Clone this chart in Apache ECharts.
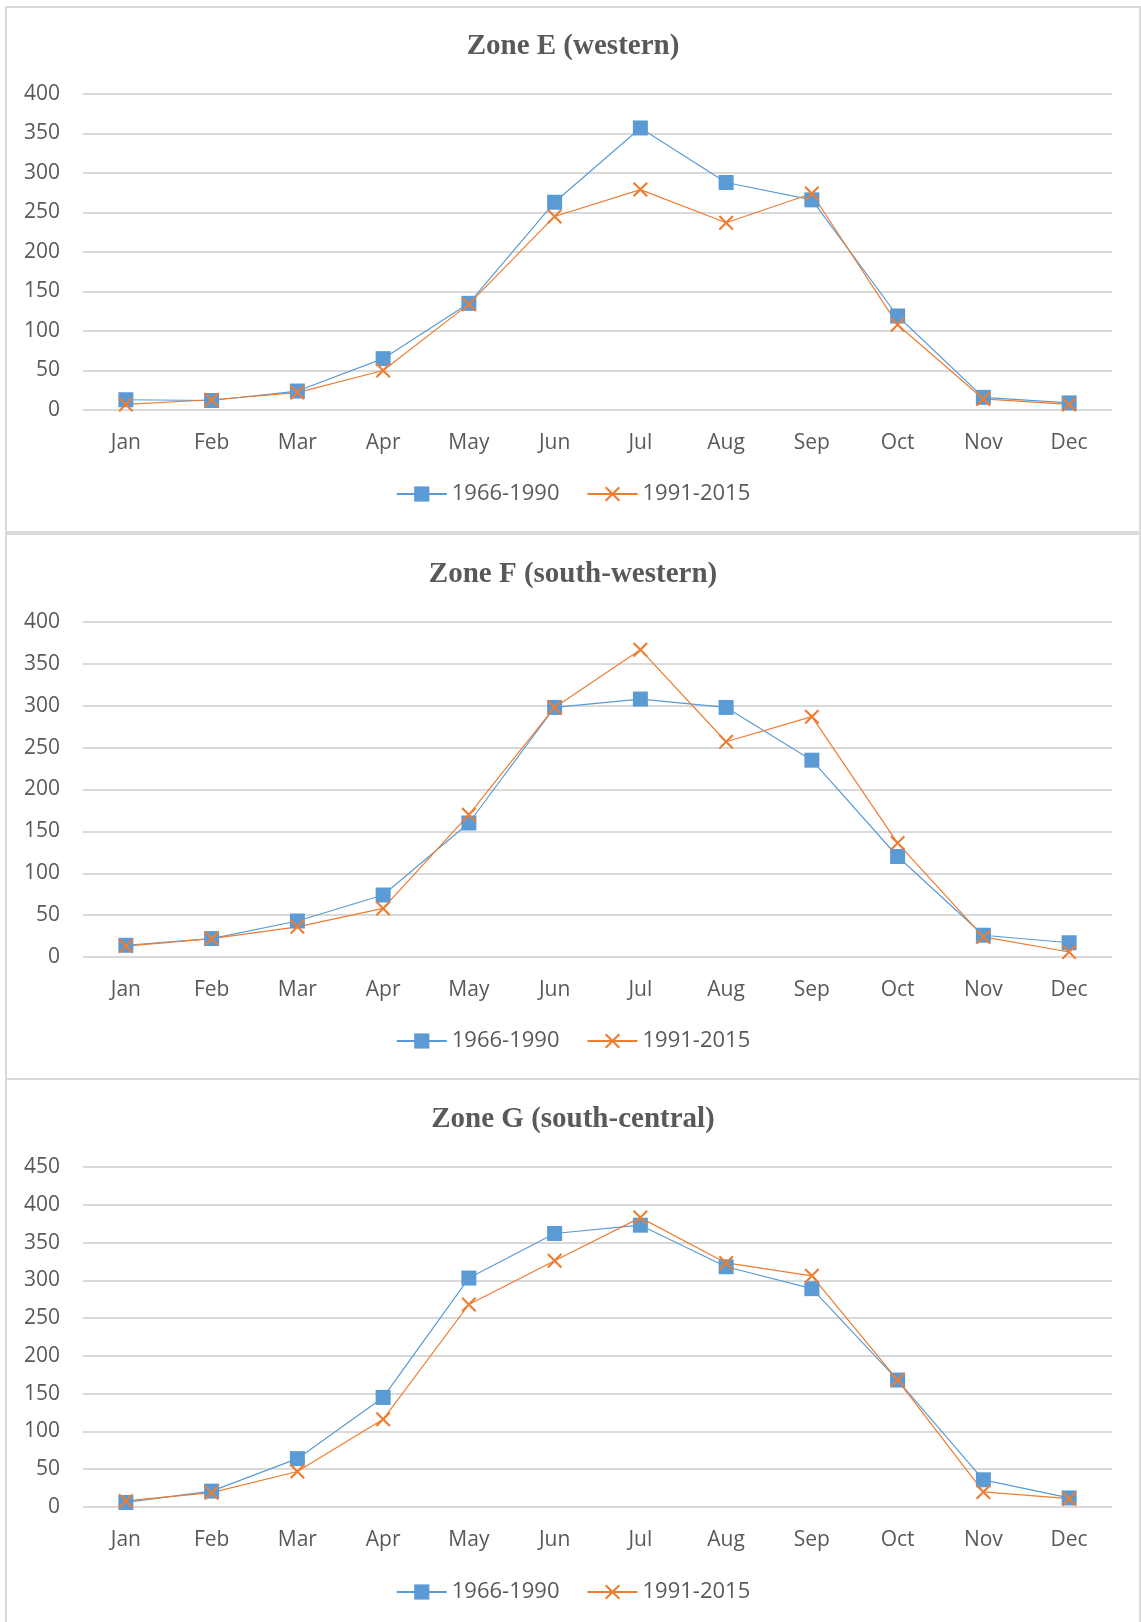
<!DOCTYPE html>
<html lang="en">
<head>
    <meta charset="UTF-8">
    <title>Monthly rainfall by zone</title>
    <script src="https://cdn.jsdelivr.net/npm/echarts@6.0.0/dist/echarts.min.js"></script>
    <style>
        body { margin: 0; background: #fff; width: 1141px; height: 1622px; overflow: hidden; position: relative; }
        .panel { position: absolute; left: 5px; width: 1136px; box-sizing: border-box; border: 2px solid #dadada; background: #fff; }
        #zoneE { top: 6px; height: 527px; }
        #zoneF { top: 533px; height: 547px; }
        #zoneG { top: 1078px; height: 560px; }
    </style>
</head>
<body>
    <div class="panel" id="zoneE"></div>
    <div class="panel" id="zoneF"></div>
    <div class="panel" id="zoneG"></div>
    <script type="text/javascript">
        const months = ['Jan', 'Feb', 'Mar', 'Apr', 'May', 'Jun', 'Jul', 'Aug', 'Sep', 'Oct', 'Nov', 'Dec'];
        const periods = ['1966-1990', '1991-2015'];

        // Zone E (western)
        const zoneE_old = [13, 12, 24, 65, 135, 263, 357, 288, 266, 119, 16, 9];
        const zoneE_new = [7, 13, 22, 50, 134, 245, 279, 237, 274, 108, 14, 7];
        // Zone F (south-western)
        const zoneF_old = [14, 22, 43, 74, 160, 298, 308, 298, 235, 120, 26, 17];
        const zoneF_new = [13, 22, 36, 58, 170, 298, 367, 257, 287, 136, 24, 6];
        // Zone G (south-central)
        const zoneG_old = [6, 21, 64, 145, 303, 362, 373, 318, 289, 168, 36, 12];
        const zoneG_new = [8, 19, 47, 116, 268, 326, 383, 323, 306, 168, 20, 11];

        const textColor = '#595959';
        const crossPath = 'path://M0,1L1,0L5,4L9,0L10,1L6,5L10,9L9,10L5,6L1,10L0,9L4,5Z';

        function makeChart(id, title, oldVals, newVals, yMax, layout) {
            var chart = echarts.init(document.getElementById(id));
            var option = {
                animation: false,
                title: {
                    text: title,
                    left: 'center',
                    top: layout.titleTop,
                    textStyle: { fontFamily: 'Liberation Serif', fontWeight: 'bold', fontSize: 29, color: textColor }
                },
                legend: {
                    data: periods,
                    left: 'center',
                    top: layout.legendTop,
                    itemWidth: 50,
                    itemHeight: 19,
                    itemGap: 27,
                    textStyle: { fontFamily: 'Open Sans', fontSize: 22, color: textColor }
                },
                grid: { left: 76, right: 27, top: layout.gridTop, height: layout.gridHeight },
                xAxis: {
                    type: 'category',
                    data: months,
                    boundaryGap: true,
                    axisLine: { show: false },
                    axisTick: { show: false },
                    axisLabel: { margin: 23, fontFamily: 'Open Sans', fontSize: 21, color: textColor }
                },
                yAxis: {
                    type: 'value',
                    min: 0,
                    max: yMax,
                    interval: 50,
                    axisLabel: { margin: 23, fontFamily: 'Open Sans', fontSize: 21, color: textColor },
                    splitLine: { lineStyle: { color: '#d9d9d9', width: 2 } }
                },
                series: [
                    {
                        name: periods[0],
                        type: 'line',
                        data: oldVals,
                        symbol: 'rect',
                        symbolSize: 15,
                        lineStyle: { color: '#5b9bd5', width: 1.2 },
                        itemStyle: { color: '#5b9bd5' }
                    },
                    {
                        name: periods[1],
                        type: 'line',
                        data: newVals,
                        symbol: crossPath,
                        symbolSize: 15,
                        lineStyle: { color: '#ed7d31', width: 1.2 },
                        itemStyle: { color: '#ed7d31' }
                    }
                ]
            };
            chart.setOption(option);
        }

        makeChart('zoneE', 'Zone E (western)', zoneE_old, zoneE_new, 400,
            { titleTop: 19, gridTop: 86, gridHeight: 316, legendTop: 470 });
        makeChart('zoneF', 'Zone F (south-western)', zoneF_old, zoneF_new, 400,
            { titleTop: 20, gridTop: 87, gridHeight: 335, legendTop: 490 });
        makeChart('zoneG', 'Zone G (south-central)', zoneG_old, zoneG_new, 450,
            { titleTop: 20, gridTop: 87, gridHeight: 340, legendTop: 496 });
    </script>
</body>
</html>
